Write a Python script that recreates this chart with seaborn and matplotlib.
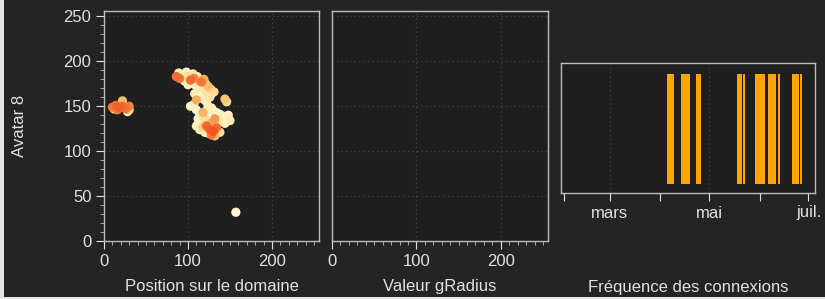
import numpy as np
import pandas as pd
import matplotlib
matplotlib.use("Agg")
import matplotlib.pyplot as plt
from matplotlib.ticker import MultipleLocator, NullLocator
from matplotlib.patches import Rectangle
import seaborn as sns

# ---------------- data ----------------
# panel 1 : positions on the domain (x, y) and intensity (0 = cream, 1 = red)
pos_x = [10, 14, 18, 22, 26, 30, 28, 22, 16, 30, 12,
         86, 90, 89, 94, 98, 101, 103, 107, 106, 111, 113, 116, 119, 121, 118, 124, 127, 96, 100, 108, 112, 122, 128, 131,
         108, 112, 115, 110, 118, 122, 126, 103, 107, 144, 146, 124, 128,
         110, 114, 118, 122, 126, 130, 134, 138, 142, 146, 150, 148, 112, 116, 120, 124, 128, 132, 136, 140, 144,
         110, 114, 118, 122, 126, 130, 134, 128, 132, 138, 124, 120, 112,
         157]
pos_y = [149, 151, 148, 150, 147, 150, 144, 156, 146, 146, 147,
         183, 181, 187, 185, 188, 183, 179, 181, 186, 183, 178, 177, 180, 175, 172, 172, 169, 178, 174, 174, 170, 166, 164, 166,
         164, 165, 160, 157, 158, 155, 160, 150, 152, 158, 155, 150, 148,
         146, 142, 143, 145, 142, 145, 143, 141, 139, 136, 134, 140, 136, 132, 136, 134, 131, 136, 132, 134, 131,
         128, 124, 127, 128, 124, 122, 126, 118, 117, 121, 120, 121, 130,
         32]
pos_v = [0.85, 0.9, 0.95, 0.9, 0.85, 0.8, 0.1, 0.5, 0.8, 0.3, 0.2,
         0.9, 0.85, 0.1, 0.15, 0.05, 0.3, 0.9, 0.8, 0.2, 0.1, 0.4, 0.85, 0.6, 0.3, 0.1, 0.5, 0.35, 0.1, 0.1, 0.05, 0.15, 0.2, 0.1, 0.3,
         0.1, 0.05, 0.1, 0.6, 0.1, 0.05, 0.2, 0.05, 0.1, 0.45, 0.3, 0.1, 0.05,
         0.05, 0.1, 0.55, 0.1, 0.05, 0.1, 0.05, 0.05, 0.1, 0.05, 0.15, 0.1, 0.05, 0.1, 0.3, 0.05, 0.6, 0.7, 0.2, 0.05, 0.05,
         0.05, 0.1, 0.4, 0.9, 0.95, 1.0, 0.9, 0.85, 0.5, 0.3, 0.1, 0.15, 0.05,
         0.0]

# panel 3 : connection days
connexion_dates = ["2011-04-05", "2011-04-06", "2011-04-07", "2011-04-08",
                   "2011-04-14", "2011-04-15", "2011-04-16", "2011-04-17", "2011-04-18",
                   "2011-04-23", "2011-04-24", "2011-04-25",
                   "2011-05-18", "2011-05-19", "2011-05-20",
                   "2011-05-22",
                   "2011-05-29", "2011-05-30", "2011-05-31", "2011-06-01", "2011-06-02", "2011-06-03",
                   "2011-06-06", "2011-06-07", "2011-06-08", "2011-06-09", "2011-06-10",
                   "2011-06-12",
                   "2011-06-21", "2011-06-22", "2011-06-23", "2011-06-24",
                   "2011-06-26"]
connexion_height = [1] * len(connexion_dates)
month_ticks = ["2011-02-01", "2011-03-01", "2011-04-01", "2011-05-01", "2011-06-01", "2011-07-01"]
month_labels = ["", "mars", "", "mai", "", "juil."]

x_ticks = [0, 100, 200]
y_ticks = [0, 50, 100, 150, 200, 250]

# ---------------- style ----------------
BG = "#242424"
AXBG = "#1f1f1f"
FG = "#e2e2e2"
GRID = "#4a4a4a"
FS = 12

sns.set_theme(style="dark")
plt.rcParams["font.family"] = ["Liberation Sans", "DejaVu Sans"]
plt.rcParams.update({
    "figure.facecolor": BG,
    "axes.facecolor": AXBG,
    "axes.edgecolor": "#bdbdbd",
    "text.color": FG,
    "axes.labelcolor": FG,
    "xtick.color": FG,
    "ytick.color": FG,
})

W, H = 825, 299
fig = plt.figure(figsize=(W / 100, H / 100), dpi=100)


def box(l, t, r, b):
    return [l / W, 1 - b / H, (r - l) / W, (b - t) / H]


ax1 = fig.add_axes(box(104, 11, 319, 241))
ax2 = fig.add_axes(box(332, 11, 548, 241))
ax3 = fig.add_axes(box(561, 63, 815, 193))

cmap = sns.blend_palette(["#fff8d2", "#fcd98c", "#f8a052", "#ee5522"], as_cmap=True)

df = pd.DataFrame({"x": pos_x, "y": pos_y, "v": pos_v}).sort_values("v")
sns.scatterplot(data=df, x="x", y="y", hue="v", palette=cmap, hue_norm=(0, 1),
                s=44, linewidth=0, legend=False, ax=ax1)

for ax in (ax1, ax2):
    ax.set_xlim(0, 256)
    ax.set_ylim(0, 256)
    ax.set_xticks(x_ticks)
    ax.set_yticks(y_ticks)
    ax.xaxis.set_minor_locator(MultipleLocator(10))
    ax.yaxis.set_minor_locator(MultipleLocator(10))
    ax.grid(True, which="major", color=GRID, linestyle=(0, (1, 3)), linewidth=0.8)
    ax.tick_params(axis="both", which="major", direction="out", length=6, width=0.8,
                   labelsize=FS, colors=FG, bottom=True, left=True, pad=3)
    ax.tick_params(axis="both", which="minor", direction="out", length=3, width=0.6,
                   colors="#bdbdbd", bottom=True, left=True)
    for sp in ax.spines.values():
        sp.set_color("#bdbdbd")
        sp.set_linewidth(1.0)

ax1.set_xlabel("Position sur le domaine", fontsize=FS)
ax1.set_ylabel("Avatar 8", fontsize=FS)
ax1.yaxis.set_label_coords(-0.36, 0.5)
ax2.set_xlabel("Valeur gRadius", fontsize=FS)
ax2.set_ylabel("")
ax2.tick_params(axis="y", which="both", left=False, labelleft=False)
ax1.xaxis.set_label_coords(0.5, -0.165)
ax2.xaxis.set_label_coords(0.5, -0.165)

# panel 3
dates = pd.to_datetime(connexion_dates)
ax3.bar(dates, connexion_height, width=1.2, align="edge", color="#ffa400", linewidth=0)
ax3.set_xlim(pd.Timestamp("2011-01-30"), pd.Timestamp("2011-07-05"))
ax3.set_ylim(-0.08, 1.1)
ax3.set_xticks(pd.to_datetime(month_ticks))
ax3.set_xticklabels(month_labels)
ax3.yaxis.set_major_locator(NullLocator())
ax3.grid(False)
for d in ["2011-03-01", "2011-05-01"]:
    ax3.axvline(pd.Timestamp(d), color=GRID, linestyle=(0, (1, 3)), linewidth=0.8, zorder=0)
ax3.tick_params(axis="x", which="major", direction="out", length=6, width=0.8,
                labelsize=FS, colors=FG, bottom=True, pad=3)
for sp in ax3.spines.values():
    sp.set_color("#bdbdbd")
    sp.set_linewidth(1.0)
ax3.set_xlabel("Fréquence des connexions", fontsize=FS)
ax3.xaxis.set_label_coords(0.5, -0.67)

# screenshot light border
fig.add_artist(Rectangle((0, 0), 4 / W, 1, transform=fig.transFigure, color="#e6e6e6", lw=0))
fig.add_artist(Rectangle((0, 0), 1, 2 / H, transform=fig.transFigure, color="#e6e6e6", lw=0))

fig.savefig("out.png", dpi=100, facecolor=BG)
